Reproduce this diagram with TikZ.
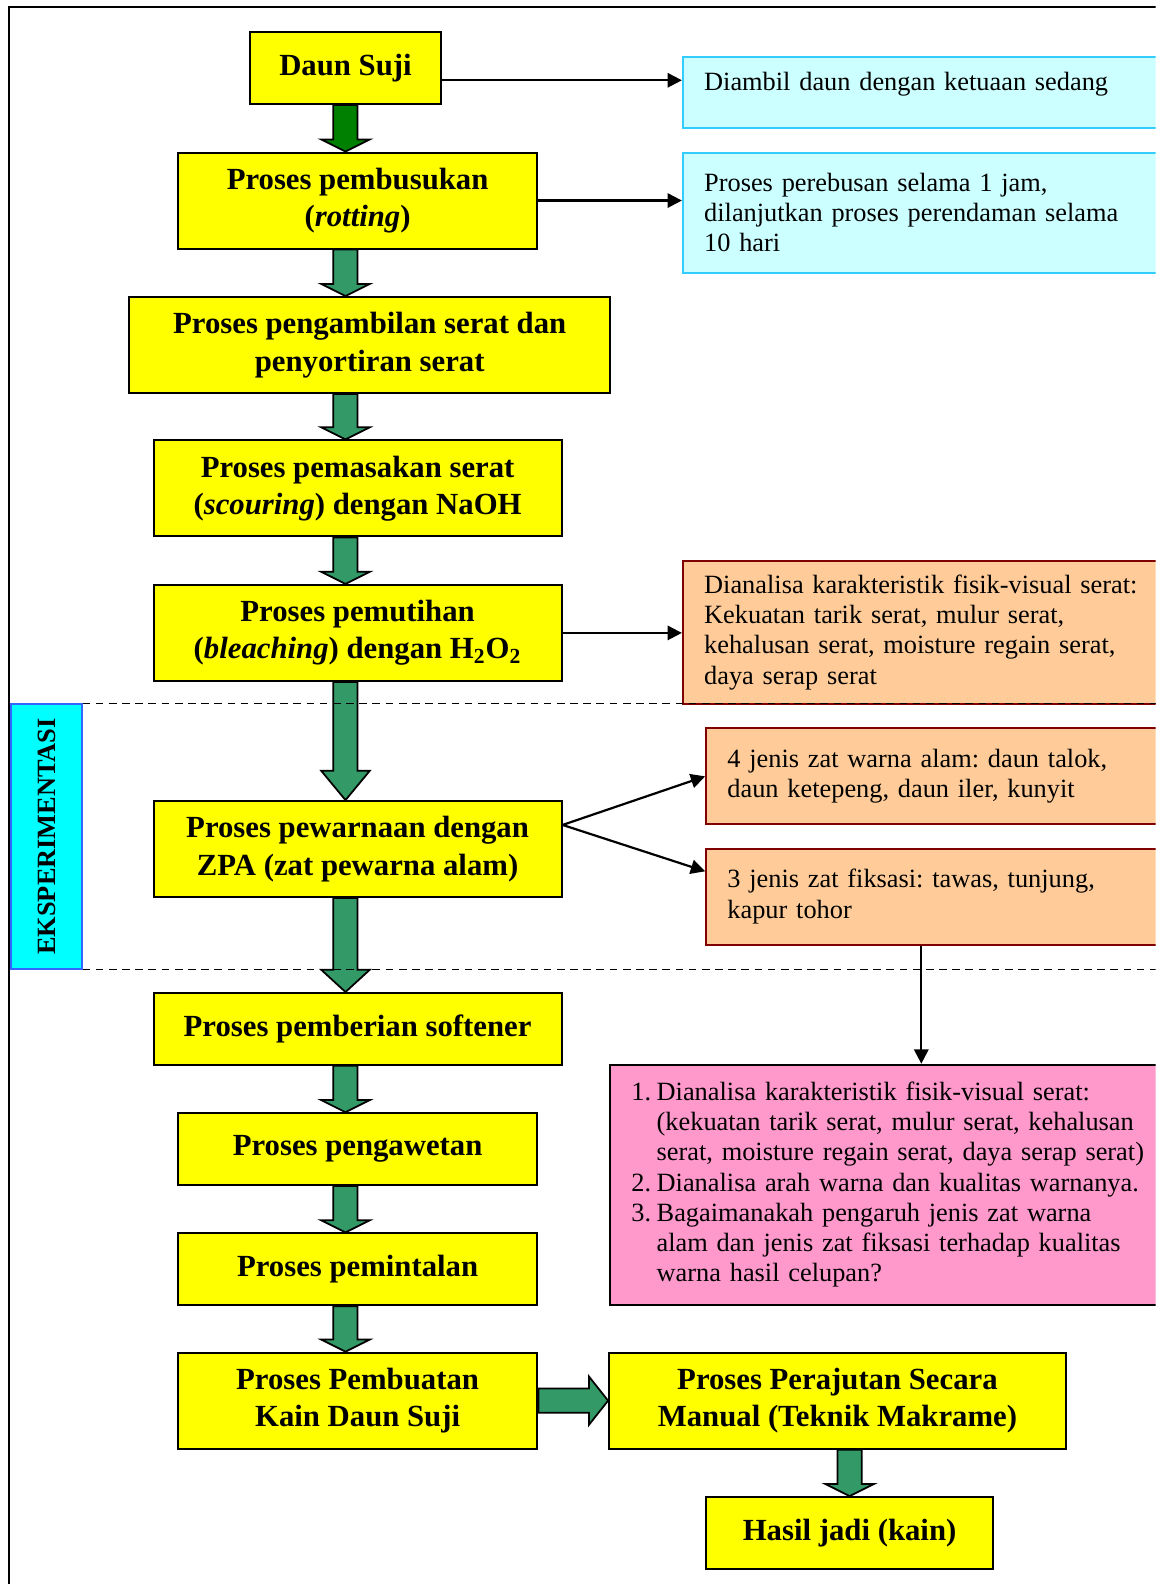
\documentclass[tikz,border=0pt]{standalone}
\usepackage{fontspec}
\usepackage{graphicx}
\setmainfont{Liberation Serif}
\usetikzlibrary{positioning, arrows.meta, calc}

\definecolor{yelbox}{HTML}{FFFF00}
\definecolor{dkgreen}{HTML}{008000}
\definecolor{seagrn}{HTML}{339966}
\definecolor{lcyan}{HTML}{CCFFFF}
\definecolor{cyanedge}{HTML}{33CCFF}
\definecolor{peach}{HTML}{FFCC99}
\definecolor{maroon}{HTML}{800000}
\definecolor{pinkbox}{HTML}{FF99CC}
\definecolor{aqua}{HTML}{00FFFF}
\definecolor{blueedge}{HTML}{3366FF}

% block arrow pointing down: fill, from, to, head length
\newcommand{\gdown}[4]{%
  \filldraw[fill=#1, line width=0.8pt]
    ($(#2)+(-12,0)$) -- ($(#3)+(-12,-#4)$) -- ($(#3)+(-24,-#4)$) -- (#3)
    -- ($(#3)+(24,-#4)$) -- ($(#3)+(12,-#4)$) -- ($(#2)+(12,0)$) -- cycle;}

\frenchspacing
\begin{document}
\begin{tikzpicture}[x=0.46pt, y=-0.46pt,
    stepbox/.style={draw, line width=0.9pt, fill=yelbox, align=center,
                    font=\fontsize{14}{17}\selectfont\bfseries, inner sep=2pt},
    note/.style={draw, line width=0.9pt, align=left, anchor=west,
                 font=\fontsize{12}{13.8}\selectfont, inner xsep=9.7pt, inner ysep=2pt},
    bluenote/.style={note, fill=lcyan, draw=cyanedge, text width=206pt},
    orangenote/.style={note, fill=peach, draw=maroon},
    blk/.style={line width=1pt, -{Triangle[length=6.5pt, width=6.5pt]}}
]
    \useasboundingbox (0,0) rectangle (1144,1568);
    \clip (0,0) rectangle (1144,1568);

    % --- Frame ---
    \draw[line width=0.9pt] (9,1568) -- (9,7) -- (1144,7);
    \coordinate (spine) at (342,0);
    \coordinate (rgt)   at (1144,0);
    \coordinate (drop)  at (912,0);

    % --- Main chain ---
    \node[stepbox, minimum width=87.4pt, minimum height=32.7pt] (dsuji) at (342,67.5)
        {Daun Suji};
    \node[stepbox, minimum width=163.8pt, minimum height=43.7pt] (rotting) at (354,198.5)
        {Proses pembusukan\\(\textit{rotting})};
    \node[stepbox, minimum width=219pt, minimum height=43.7pt] (ambil) at (366,341.5)
        {Proses pengambilan serat dan\\penyortiran serat};
    \node[stepbox, minimum width=185.8pt, minimum height=43.7pt] (masak) at (354,483.5)
        {Proses pemasakan serat\\(\textit{scouring}) dengan NaOH};
    \node[stepbox, minimum width=185.8pt, minimum height=43.7pt] (putih) at (354,626.5)
        {Proses pemutihan\\(\textit{bleaching}) dengan H\textsubscript{2}O\textsubscript{2}};
    \node[stepbox, minimum width=185.8pt, minimum height=43.7pt] (warna) at (354,840.5)
        {Proses pewarnaan dengan\\ZPA (zat pewarna alam)};
    \node[stepbox, minimum width=185.8pt, minimum height=32.7pt] (soft) at (354,1018.5)
        {Proses pemberian softener};
    \node[stepbox, minimum width=163.8pt, minimum height=32.7pt] (awet) at (354,1137.5)
        {Proses pengawetan};
    \node[stepbox, minimum width=163.8pt, minimum height=32.7pt] (pintal) at (354,1256.5)
        {Proses pemintalan};
    \node[stepbox, minimum width=163.8pt, minimum height=43.7pt] (buat) at (354,1386.5)
        {Proses Pembuatan\\Kain Daun Suji};
    \node[stepbox, minimum width=208pt, minimum height=43.7pt] (rajut) at (829,1386.5)
        {Proses Perajutan Secara\\Manual (Teknik Makrame)};
    \node[stepbox, minimum width=130.6pt, minimum height=32.7pt] (hasil) at (841,1517.5)
        {Hasil jadi (kain)};

    % --- Side notes ---
    \node[bluenote, minimum height=32.7pt, text depth=10pt] (cyanA) at (675,91.5)
        {Diambil daun dengan ketuaan sedang};
    \node[bluenote, minimum height=54.7pt] (cyanB) at (675,210.5)
        {Proses perebusan selama 1 jam,\\dilanjutkan proses perendaman selama\\10 hari};
    \node[orangenote, text width=206pt, minimum height=65.3pt] (orA) at (675,626)
        {Dianalisa karakteristik fisik-visual serat:\\Kekuatan tarik serat, mulur serat,\\kehalusan serat, moisture regain serat,\\daya serap serat};
    \node[orangenote, text width=195pt, minimum height=43.7pt] (orB) at (698,768.5)
        {4 jenis zat warna alam: daun talok,\\daun ketepeng, daun iler, kunyit};
    \node[orangenote, text width=195pt, minimum height=43.7pt] (orC) at (698,887.5)
        {3 jenis zat fiksasi: tawas, tunjung,\\kapur tohor};
    \node[note, fill=pinkbox, text width=238.8pt, minimum height=109.5pt] (pink) at (603,1173)
        {\begin{tabular}{@{}l@{\hspace{2.5pt}}l@{}}
         1. & Dianalisa karakteristik fisik-visual serat:\\
            & (kekuatan tarik serat, mulur serat, kehalusan\\
            & serat, moisture regain serat, daya serap serat)\\
         2. & Dianalisa arah warna dan kualitas warnanya.\\
         3. & Bagaimanakah pengaruh jenis zat warna\\
            & alam dan jenis zat fiksasi terhadap kualitas\\
            & warna hasil celupan?
         \end{tabular}};

    % --- Experiment band ---
    \node[draw=blueedge, fill=aqua, line width=0.7pt, inner sep=0pt,
          minimum width=32.2pt, minimum height=120.5pt,
          font=\fontsize{12}{14}\selectfont\bfseries] (eksp) at (46,828)
        {\rotatebox{90}{EKSPERIMENTASI}};

    % --- Block arrows ---
    \gdown{dkgreen}{spine |- dsuji.south}{spine |- rotting.north}{12}
    \gdown{seagrn}{spine |- rotting.south}{spine |- ambil.north}{12}
    \gdown{seagrn}{spine |- ambil.south}{spine |- masak.north}{12}
    \gdown{seagrn}{spine |- masak.south}{spine |- putih.north}{12}
    \gdown{seagrn}{spine |- putih.south}{spine |- warna.north}{29}
    \gdown{seagrn}{spine |- warna.south}{spine |- soft.north}{22}
    \gdown{seagrn}{spine |- soft.south}{spine |- awet.north}{12}
    \gdown{seagrn}{spine |- awet.south}{spine |- pintal.north}{12}
    \gdown{seagrn}{spine |- pintal.south}{spine |- buat.north}{12}
    \gdown{seagrn}{hasil.north |- rajut.south}{hasil.north}{12}
    \filldraw[fill=seagrn, line width=0.8pt]
        ($(buat.east)+(0,-12)$) -- ($(rajut.west)+(-19,-12)$) -- ($(rajut.west)+(-19,-24)$)
        -- (rajut.west) -- ($(rajut.west)+(-19,24)$) -- ($(rajut.west)+(-19,12)$)
        -- ($(buat.east)+(0,12)$) -- cycle;

    % --- Band borders ---
    \draw[line width=0.8pt, dash pattern=on 3.5pt off 2.5pt]
        (eksp.north east) -- (eksp.north east -| rgt);
    \draw[line width=0.8pt, dash pattern=on 3.5pt off 2.5pt]
        (eksp.south east) -- (eksp.south east -| rgt);

    % --- Note arrows ---
    \draw[blk] ([yshift=-5.5pt]dsuji.east) coordinate (p1) -- (p1 -| cyanA.west);
    \draw[blk] (rotting.east) -- (rotting.east -| cyanB.west);
    \draw[blk] (putih.east) -- (putih.east -| orA.west);
    \draw[blk] ([yshift=11pt]warna.east) -- (orB.west);
    \draw[blk] ([yshift=11pt]warna.east) -- ([yshift=11.5pt]orC.west);
    \draw[blk] (drop |- orC.south) -- (drop |- pink.north);
\end{tikzpicture}
\end{document}
